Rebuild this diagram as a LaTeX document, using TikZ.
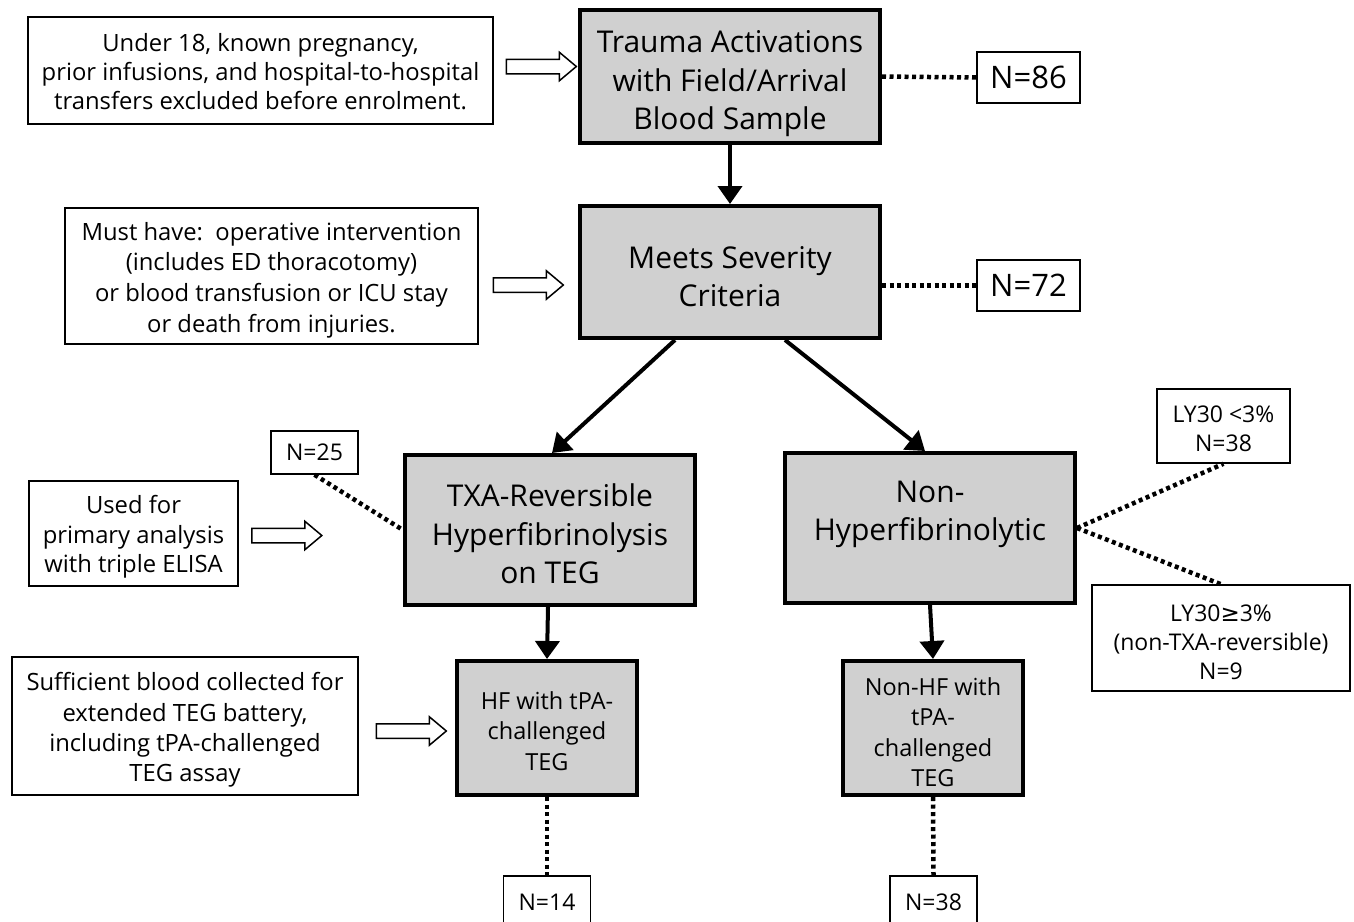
\documentclass[tikz,border=0pt]{standalone}
\usepackage{fontspec}
\setmainfont{Open Sans}
\newfontfamily\symfont{DejaVu Sans}
\usetikzlibrary{arrows.meta,shapes.arrows,calc}
\definecolor{boxgray}{HTML}{D0D0D0}
% strut in the first line that pushes the text block down by half its argument
\newcommand{\up}[1]{\rule{0pt}{\dimexpr\fontcharht\font`l+#1\relax}}
\tikzset{
  mainbox/.style={draw=black, line width=4pt, fill=boxgray, align=center, inner sep=0pt, font=\fontsize{30}{38.5}\selectfont},
  smallmain/.style={mainbox, font=\fontsize{23.5}{30.5}\selectfont},
  notebox/.style={draw=black, line width=1.5pt, fill=white, align=center, inner sep=0pt, font=\fontsize{23.8}{30.3}\selectfont},
  nbox/.style={notebox, font=\fontsize{31}{34}\selectfont},
  nsmall/.style={notebox, font=\fontsize{23}{29}\selectfont},
  flow/.style={line width=4pt, -{Triangle[length=18pt,width=24pt]}},
  dots/.style={line width=4.5pt, dash pattern=on 4pt off 3.5pt},
  hollow/.style={single arrow, draw=black, line width=1.5pt, fill=white, inner sep=6.5pt, single arrow head extend=7pt, single arrow tip angle=80, minimum height=70pt}
}
\begin{document}
\begin{tikzpicture}[x=1pt,y=-1pt]
\useasboundingbox[fill=white] (0,0) rectangle (1354,921);
% main boxes
\node[mainbox, minimum width=300pt, minimum height=133pt] (trauma) at (730,76.5) {\up{14pt}Trauma Activations\\with Field/Arrival\\Blood Sample};
\node[mainbox, minimum width=300pt, minimum height=132pt] (sev) at (730,272) {\up{8pt}Meets Severity\\Criteria};
\node[mainbox, minimum width=290pt, minimum height=150pt] (txa) at (550,530) {\up{8pt}TXA-Reversible\\Hyperfibrinolysis\\on TEG};
\node[mainbox, minimum width=290pt, minimum height=150pt] (nonhf) at (930,528) {\up{3pt}Non-\\Hyperfibrinolytic\\\mbox{}};
\node[smallmain, minimum width=180pt, minimum height=134pt] (hftpa) at (547,728) {\up{6pt}HF with tPA-\\challenged\\TEG};
\node[smallmain, minimum width=180pt, minimum height=134pt] (nhftpa) at (933,728) {\up{8pt}Non-HF with\\tPA-\\challenged\\TEG};
% note boxes
\node[notebox, minimum width=465pt, minimum height=107pt, font=\fontsize{23.8}{29}\selectfont] (excl) at (260.5,70.5) {\up{2pt}Under 18, known pregnancy,\\prior infusions, and hospital-to-hospital\\transfers excluded before enrolment.};
\node[notebox, minimum width=413pt, minimum height=136pt, font=\fontsize{23.8}{30.7}\selectfont] (must) at (271.5,276) {\up{8pt}Must have:\ \ operative intervention\\(includes ED thoracotomy)\\or blood transfusion or ICU stay\\or death from injuries.};
\node[notebox, minimum width=209pt, minimum height=105pt, font=\fontsize{23.8}{29.5}\selectfont] (used) at (133.5,533.5) {\up{7pt}Used for\\primary analysis\\with triple ELISA};
\node[notebox, minimum width=346pt, minimum height=138pt] (suff) at (185,726) {\up{8pt}Sufficient blood collected for\\extended TEG battery,\\including tPA-challenged\\TEG assay};
% N boxes
\node[nbox, minimum width=103pt, minimum height=51pt] (n86) at (1028.5,77.5) {N=86};
\node[nbox, minimum width=103pt, minimum height=51pt] (n72) at (1028.5,285.5) {N=72};
\node[nsmall, minimum width=87pt, minimum height=43pt, text depth=0pt] (n25) at (314.5,452.5) {N=25};
\node[nsmall, minimum width=133pt, minimum height=74pt] (ly1) at (1223.5,426) {\up{4pt}LY30 <3\%\\N=38};
\node[nsmall, minimum width=258pt, minimum height=106pt] (ly2) at (1221,638) {\up{8pt}LY30{\symfont ≥}3\%\\(non-TXA-reversible)\\N=9};
\node[nsmall, minimum width=87pt, minimum height=52pt, text depth=0pt] (n14) at (547,902) {N=14};
\node[nsmall, minimum width=87pt, minimum height=52pt, text depth=0pt] (n38) at (933.5,902) {N=38};
% hollow arrows
\node[hollow] (h1) at (537,66.5) {};
\node[hollow] (h2) at (524,285) {};
\node[hollow] (h3) at (282.5,535.5) {};
\node[hollow] (h4) at (407,731) {};
% flow arrows
\draw[flow] (trauma.south) -- (sev.north);
\draw[flow] ([xshift=-55pt]sev.south) -- ([xshift=2pt]txa.north);
\draw[flow] ([xshift=55pt]sev.south) -- ([xshift=-5pt]nonhf.north);
\draw[flow] ([xshift=-2pt]txa.south) -- (hftpa.north);
\draw[flow] (nonhf.south) -- (nhftpa.north);
% dotted links
\draw[dots] (trauma.east) -- (n86.west);
\draw[dots] (sev.east |- n72.west) -- (n72.west);
\draw[dots] (n25.south) -- (txa.west);
\draw[dots] (nonhf.east) -- (ly1.south);
\draw[dots] (nonhf.east) -- (ly2.north);
\draw[dots] (hftpa.south) -- (n14.north);
\draw[dots] (nhftpa.south) -- (n38.north);
\end{tikzpicture}
\end{document}
